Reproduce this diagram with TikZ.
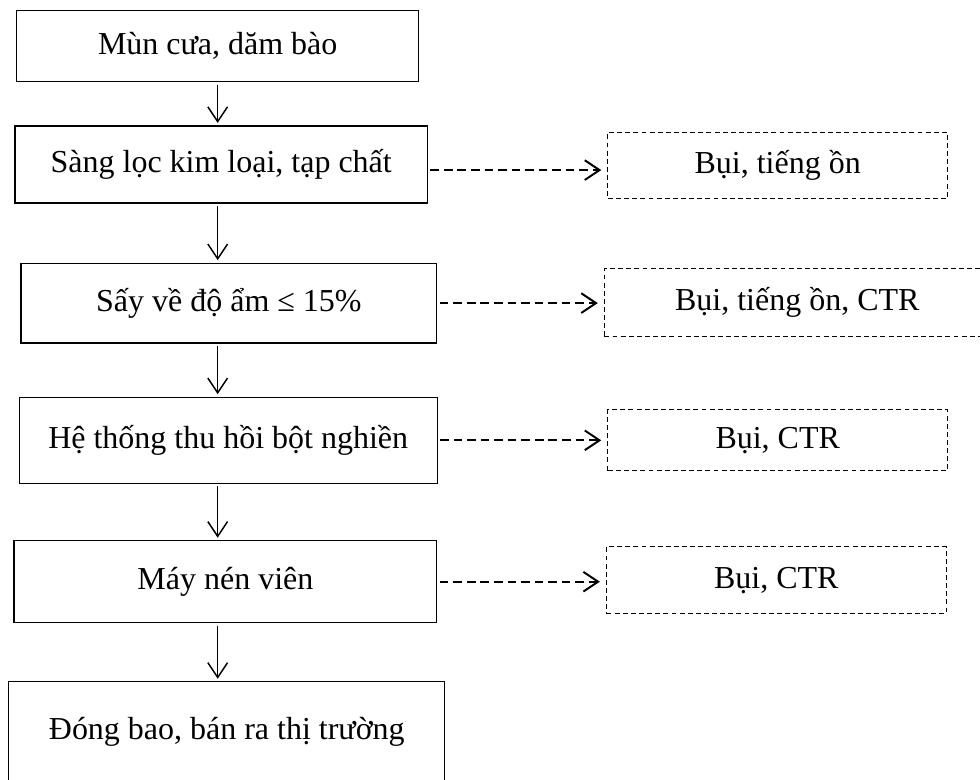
\documentclass[tikz,border=0pt]{standalone}
\usepackage{fontspec}
\setmainfont{Liberation Serif}
\usetikzlibrary{arrows.meta}

\begin{document}
\begin{tikzpicture}[
  box/.style={draw, line width=0.5pt, minimum width=5.9cm, minimum height=1.1cm, inner sep=0pt, font=\fontsize{13}{15}\selectfont, align=center},
  dashbox/.style={draw, line width=0.4pt, dash pattern=on 2pt off 1.3pt, minimum width=4.85cm, minimum height=0.95cm, inner sep=0pt, font=\fontsize{13}{15}\selectfont, align=center},
  arr/.style={-{Straight Barb[length=6pt,width=8pt]}, line width=0.6pt, shorten <=1pt, shorten >=1pt},
  darr/.style={-{Straight Barb[length=6pt,width=8pt]}, line width=0.8pt, dash pattern=on 3.5pt off 2pt, shorten <=1pt, shorten >=2.5pt}
]
  \useasboundingbox (0,0) rectangle (14,-11.13);

  % quy trinh chinh
  \node[box, minimum width=5.74cm, minimum height=1.01cm] (mun) at (3.11,-0.66) {Mùn cưa, dăm bào};
  \node[box, minimum width=5.89cm] (sang) at (3.16,-2.35) {Sàng lọc kim loại, tạp chất};
  \node[box, minimum width=5.94cm, minimum height=1.14cm] (say) at (3.27,-4.33) {Sấy về độ ẩm ≤ 15\%};
  \node[box, minimum width=5.97cm, minimum height=1.23cm] (thuhoi) at (3.26,-6.29) {Hệ thống thu hồi bột nghiền};
  \node[box, minimum width=6.04cm, minimum height=1.17cm] (nen) at (3.22,-8.31) {Máy nén viên};
  \node[box, minimum width=6.23cm, minimum height=1.54cm, text depth=0.22cm] (dongbao) at (3.24,-10.51) {Đóng bao, bán ra thị trường};

  % chat thai
  \node[dashbox, minimum height=0.94cm] (bui1) at (11.11,-2.36) {Bụi, tiếng ồn};
  \node[dashbox, minimum width=5.51cm, minimum height=0.96cm] (bui2) at (11.39,-4.32) {Bụi, tiếng ồn, CTR};
  \node[dashbox, minimum height=0.87cm] (bui3) at (11.11,-6.29) {Bụi, CTR};
  \node[dashbox, minimum height=0.96cm] (bui4) at (11.09,-8.29) {Bụi, CTR};

  \coordinate (trucx) at (3.11,0);
  \foreach \a/\b in {mun/sang, sang/say, say/thuhoi, thuhoi/nen, nen/dongbao}
    \draw[arr] (\a.south -| trucx) -- (\b.north -| trucx);

  \draw[darr] ([yshift=-0.08cm]sang.east) -- ([yshift=-0.08cm]sang.east -| bui1.west);
  \foreach \a/\b in {say/bui2, thuhoi/bui3, nen/bui4}
    \draw[darr] (\a.east) -- (\a.east -| \b.west);
\end{tikzpicture}
\end{document}
